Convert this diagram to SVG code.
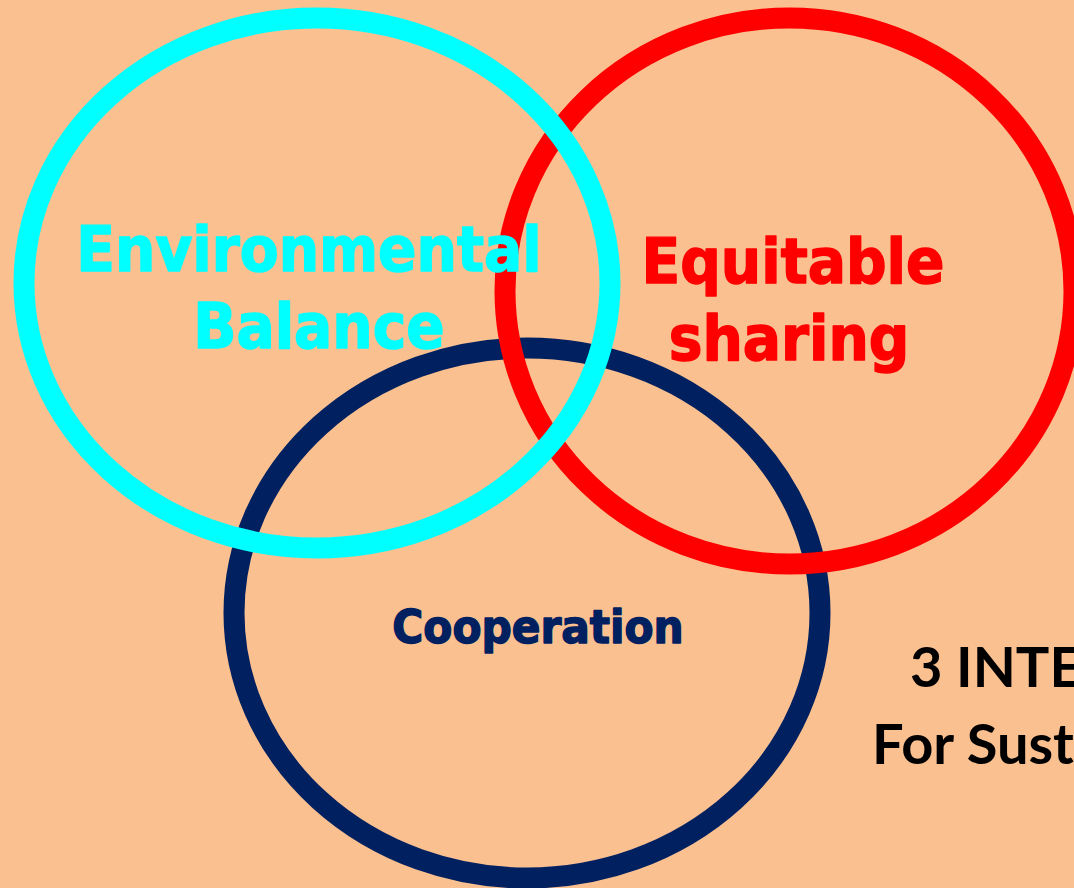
<svg xmlns="http://www.w3.org/2000/svg" width="1074" height="888" viewBox="0 0 1074 888">
<style>
.ring{fill:none;stroke-width:21}
.lbl{font-family:"DejaVu Sans Condensed","DejaVu Sans",sans-serif;font-weight:bold;font-stretch:condensed;text-anchor:middle;stroke-width:1.4;stroke-linejoin:round}
.side{font-family:Lato,"Liberation Sans",sans-serif;font-weight:bold;fill:#000000;font-size:56px}
</style>
<rect x="0" y="0" width="1074" height="888" fill="#FAC090"/>
<g id="cooperation-ring">
<ellipse class="ring" cx="527" cy="613" rx="293" ry="265" stroke="#002060"/>
</g>
<g id="equitable-ring">
<ellipse class="ring" cx="789.5" cy="291" rx="284.5" ry="273" stroke="#FF0000"/>
</g>
<g id="environmental-ring">
<ellipse class="ring" cx="317" cy="283" rx="293" ry="265" stroke="#00FFFF"/>
</g>
<g id="connectors"></g>
<g id="environmental-label">
<text class="lbl" x="309" y="271" font-size="63" fill="#00FFFF" stroke="#00FFFF">Environmental</text>
<text class="lbl" x="319" y="348" font-size="63" fill="#00FFFF" stroke="#00FFFF">Balance</text>
</g>
<g id="equitable-label">
<text class="lbl" x="793" y="283" font-size="63" fill="#FF0000" stroke="#FF0000">Equitable</text>
<text class="lbl" x="789" y="360" font-size="63" fill="#FF0000" stroke="#FF0000">sharing</text>
</g>
<g id="cooperation-label">
<text class="lbl" x="538" y="643" font-size="47" fill="#002060" stroke="#002060">Cooperation</text>
</g>
<g id="side-title">
<text class="side" x="910" y="687">3 INTE</text>
<text class="side" x="872" y="764">For Sust</text>
</g>
</svg>
